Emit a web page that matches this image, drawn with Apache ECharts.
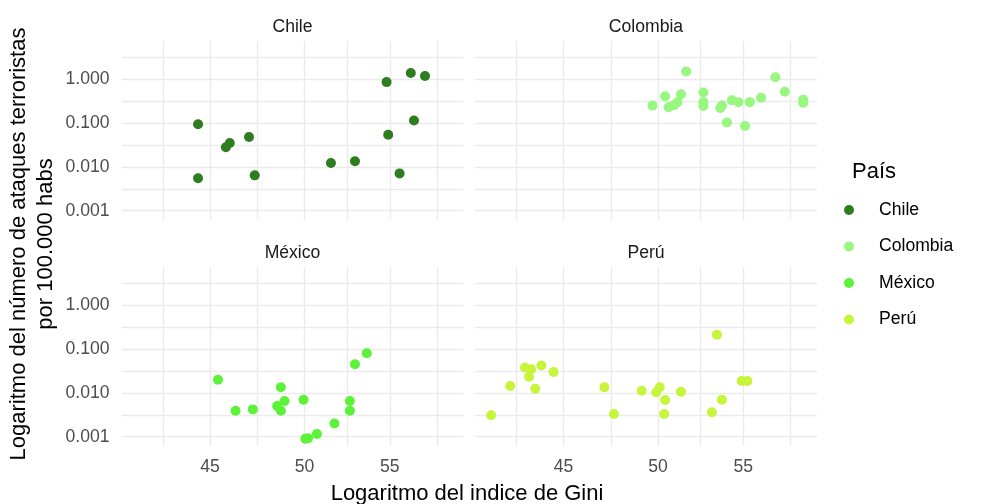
<!DOCTYPE html>
<html>
<head>
<meta charset="utf-8">
<script src="https://cdn.jsdelivr.net/npm/echarts@6/dist/echarts.min.js"></script>
<style>
  html, body { margin: 0; padding: 0; background: #ffffff; }
  #chart { width: 982px; height: 504px; }
</style>
</head>
<body>
<div id="chart"></div>
<script>
// Terrorist attacks per 100.000 inhabitants vs Gini index, faceted by country
// Both axes are log10 scales (ggplot scale_*_log10 look)
var countries = ['Chile', 'Colombia', 'México', 'Perú'];
var colors = ['#2E7D1F', '#97F77F', '#5DF23A', '#C6F53B'];

var chileGini = [44.4, 44.4, 45.8, 46.0, 47.0, 47.3, 51.5, 52.9, 54.8, 54.9, 55.6, 56.3, 56.5, 57.2];
var chileRate = [0.094, 0.0055, 0.028, 0.035, 0.048, 0.0064, 0.0123, 0.0135, 0.86, 0.054, 0.0071, 1.39, 0.114, 1.19];

var colombiaGini = [49.7, 50.4, 50.6, 50.9, 51.1, 51.3, 51.6, 52.6, 52.6, 52.6, 53.6, 53.7, 54.0, 54.3, 54.7, 55.1, 55.4, 56.1, 57.0, 57.6, 58.8, 58.8];
var colombiaRate = [0.25, 0.41, 0.23, 0.255, 0.30, 0.455, 1.50, 0.50, 0.30, 0.245, 0.22, 0.25, 0.103, 0.33, 0.30, 0.086, 0.30, 0.38, 1.11, 0.52, 0.34, 0.29];

var mexicoGini = [45.4, 46.3, 47.2, 48.5, 48.7, 48.7, 48.9, 49.95, 50.05, 50.2, 50.7, 51.7, 52.6, 52.6, 52.9, 53.6];
var mexicoRate = [0.020, 0.0039, 0.0042, 0.0050, 0.0134, 0.0039, 0.0065, 0.0070, 0.00090, 0.00092, 0.00115, 0.0020, 0.0065, 0.0039, 0.045, 0.080];

var peruGini = [41.5, 42.4, 43.1, 43.4, 43.3, 43.6, 43.9, 44.5, 47.1, 47.6, 49.1, 49.9, 50.1, 50.4, 50.35, 51.3, 53.1, 53.4, 53.7, 54.9, 55.25];
var peruRate = [0.0031, 0.0143, 0.038, 0.0345, 0.0234, 0.0125, 0.042, 0.030, 0.0134, 0.0033, 0.0112, 0.0103, 0.0134, 0.0069, 0.0033, 0.0106, 0.0036, 0.212, 0.0070, 0.0187, 0.0187];

var xBreaks = [45, 50, 55];
var yBreaks = [0.001, 0.01, 0.1, 1];

(function() {
  var font = 'Liberation Sans, Arial, sans-serif';
  var gridColor = '#EBEBEB';
  var tickColor = '#4D4D4D';
  var log = function(v) { return Math.log10(v); };

  var giniSets = [chileGini, colombiaGini, mexicoGini, peruGini];
  var rateSets = [chileRate, colombiaRate, mexicoRate, peruRate];

  // shared scale limits (log10 space)
  var xMin = 1.61028, xMax = 1.77606;
  var yMin = -3.21, yMax = 0.87;

  // major breaks + ggplot-style minor breaks (midpoints in log space)
  var xMajor = xBreaks.map(log);
  var xGrid = xMajor.slice();
  for (var i = 0; i < xMajor.length - 1; i++) xGrid.push((xMajor[i] + xMajor[i + 1]) / 2);
  var xStep = (xMajor[1] - xMajor[0]) / 2;
  xGrid.push(xMajor[0] - xStep, xMajor[xMajor.length - 1] + xStep);

  var yMajor = yBreaks.map(log);
  var yGrid = yMajor.slice();
  for (var j = 0; j < yMajor.length - 1; j++) yGrid.push((yMajor[j] + yMajor[j + 1]) / 2);
  yGrid.push(yMajor[0] - 0.5, yMajor[yMajor.length - 1] + 0.5);

  var panels = [
    { left: 121.5, top: 41.1 },
    { left: 475, top: 41.1 },
    { left: 121.5, top: 267.1 },
    { left: 475, top: 267.1 }
  ];
  var pw = 342, ph = 178.8;

  var grids = [], xAxes = [], yAxes = [], series = [], graphics = [];
  panels.forEach(function(p, k) {
    grids.push({ left: p.left, top: p.top, width: pw, height: ph, outerBoundsMode: 'none' });
    xAxes.push({
      type: 'value', gridIndex: k, min: xMin, max: xMax,
      axisLine: { show: false },
      axisTick: { show: false, customValues: xGrid },
      axisLabel: {
        show: k >= 2, customValues: xMajor, margin: 12,
        color: tickColor, fontSize: 17.6, fontFamily: font,
        formatter: function(v) { return String(Math.round(Math.pow(10, v))); }
      },
      splitLine: { show: true, lineStyle: { color: gridColor, width: 1.4 } }
    });
    yAxes.push({
      type: 'value', gridIndex: k, min: yMin, max: yMax,
      axisLine: { show: false },
      axisTick: { show: false, customValues: yGrid },
      axisLabel: {
        show: k % 2 === 0, customValues: yMajor, margin: 12,
        color: tickColor, fontSize: 17.6, fontFamily: font,
        formatter: function(v) { return Math.pow(10, v).toFixed(3); }
      },
      splitLine: { show: true, lineStyle: { color: gridColor, width: 1.4 } }
    });
    series.push({
      name: countries[k],
      type: 'scatter',
      xAxisIndex: k, yAxisIndex: k,
      symbol: 'circle', symbolSize: 10,
      itemStyle: { color: colors[k], opacity: 1 },
      data: giniSets[k].map(function(g, n) { return [log(g), log(rateSets[k][n])]; })
    });
    // facet strip label
    graphics.push({
      type: 'text', x: p.left + pw / 2, y: p.top - 14,
      style: { text: countries[k], fill: '#1A1A1A', fontSize: 17.6, fontFamily: font, align: 'center', verticalAlign: 'middle' }
    });
  });

  graphics.push({
    type: 'text', x: 467, y: 494,
    style: { text: 'Logaritmo del indice de Gini', fill: '#000', fontSize: 22, fontFamily: font, align: 'center', verticalAlign: 'middle' }
  });
  graphics.push({
    type: 'text', x: 32, y: 244, rotation: Math.PI / 2,
    style: {
      text: 'Logaritmo del número de ataques terroristas\npor 100.000 habs',
      fill: '#000', fontSize: 22, lineHeight: 27, fontFamily: font, align: 'center', verticalAlign: 'middle'
    }
  });
  graphics.push({
    type: 'text', x: 852, y: 172,
    style: { text: 'País', fill: '#000', fontSize: 22, fontFamily: font, align: 'left', verticalAlign: 'middle' }
  });

  var chart = echarts.init(document.getElementById('chart'), null, { renderer: 'canvas' });
  chart.setOption({
    animation: false,
    backgroundColor: '#ffffff',
    grid: grids,
    xAxis: xAxes,
    yAxis: yAxes,
    legend: {
      data: countries,
      orient: 'vertical',
      left: 844, top: 200,
      padding: 0,
      icon: 'circle',
      itemWidth: 50, itemHeight: 10, itemGap: 16.5,
      textStyle: { color: '#000', fontSize: 17.6, lineHeight: 20, fontFamily: font }
    },
    graphic: graphics,
    series: series
  });
})();
</script>
</body>
</html>
